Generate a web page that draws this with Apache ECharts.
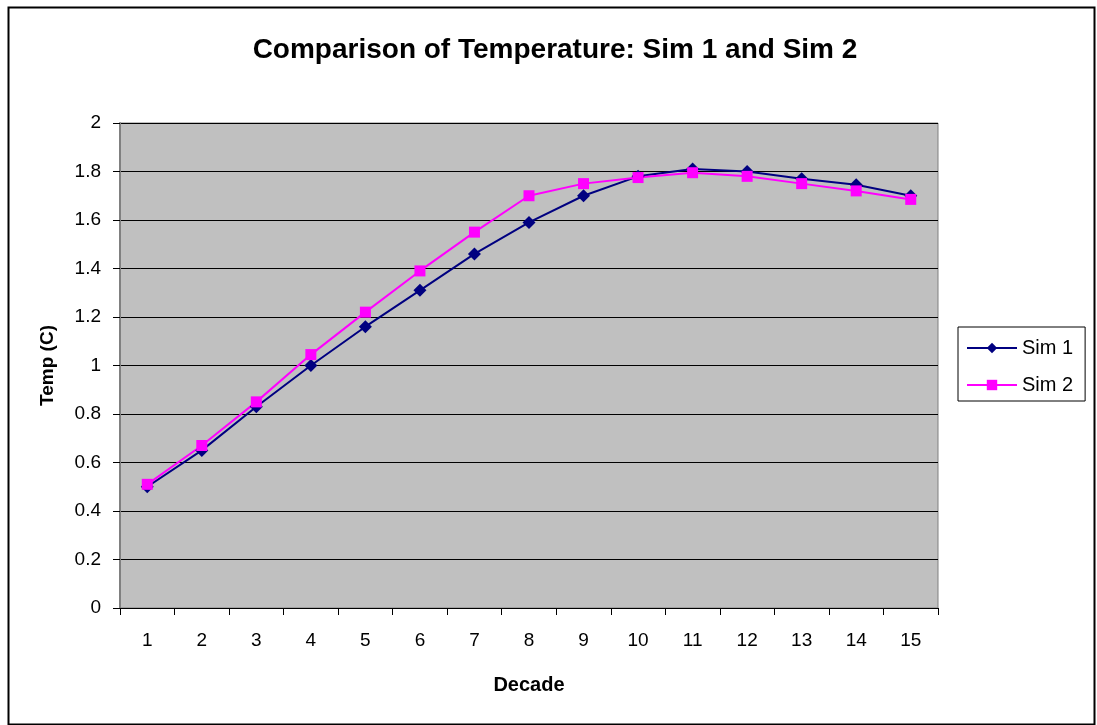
<!DOCTYPE html>
<html><head><meta charset="utf-8">
<script src="https://cdn.jsdelivr.net/npm/echarts@6/dist/echarts.min.js"></script>
<style>html,body{margin:0;padding:0;background:#fff}#c{width:1097px;height:725px}</style>
</head><body><div id="c"></div>
<script>
const categories = ['1','2','3','4','5','6','7','8','9','10','11','12','13','14','15'];
const sim1 = [0.50, 0.65, 0.83, 1.00, 1.16, 1.31, 1.46, 1.59, 1.70, 1.78, 1.81, 1.80, 1.77, 1.745, 1.70];
const sim2 = [0.51, 0.67, 0.85, 1.045, 1.22, 1.39, 1.55, 1.70, 1.75, 1.775, 1.795, 1.78, 1.75, 1.72, 1.685];
const yTicks = [0, 0.2, 0.4, 0.6, 0.8, 1, 1.2, 1.4, 1.6, 1.8, 2];
const FONT = '"Liberation Sans", Arial, sans-serif';
const chart = echarts.init(document.getElementById('c'), null, {renderer:'canvas'});
chart.setOption({
  animation:false,
  backgroundColor:'#fff',
  textStyle:{fontFamily:FONT},
  graphic:[{type:'rect',left:6,top:5,shape:{width:1086,height:717},style:{fill:'none',stroke:'#000',lineWidth:2},z:-1}],
  title:{text:'Comparison of Temperature: Sim 1 and Sim 2',left:550,textAlign:'center',top:31,
    textStyle:{fontFamily:FONT,fontSize:28,fontWeight:'bold',color:'#000'}},
  legend:{orient:'vertical',left:958,top:327,itemWidth:50,itemHeight:13,itemGap:17,padding:[11,12,6,8],
    borderColor:'#000',borderWidth:1,backgroundColor:'#fff',
    textStyle:{fontFamily:FONT,fontSize:20,color:'#000'},data:['Sim 1','Sim 2']},
  grid:{left:120,top:123,right:159,bottom:117,show:true,backgroundColor:'#C0C0C0',borderColor:'#808080',borderWidth:1},
  xAxis:{type:'category',data:categories,boundaryGap:true,name:'Decade',nameLocation:'middle',nameGap:67,
    nameTextStyle:{fontFamily:FONT,fontSize:20,fontWeight:'bold',color:'#000'},
    axisLine:{lineStyle:{color:'#000',width:1}},axisTick:{show:true,length:7,lineStyle:{color:'#000'}},
    axisLabel:{fontFamily:FONT,fontSize:19,color:'#000',margin:23},splitLine:{show:false}},
  yAxis:{type:'value',min:yTicks[0],max:yTicks[yTicks.length-1],interval:0.2,name:'Temp (C)',nameLocation:'middle',nameGap:63,
    nameTextStyle:{fontFamily:FONT,fontSize:19,fontWeight:'bold',color:'#000'},
    axisLine:{show:true,lineStyle:{color:'#808080',width:2}},axisTick:{show:true,length:7,lineStyle:{color:'#000'}},
    axisLabel:{fontFamily:FONT,fontSize:19,color:'#000',margin:19,formatter:v=>String(Math.round(v*10)/10)},
    splitLine:{show:true,lineStyle:{color:'#000',width:1}}},
  series:[
    {name:'Sim 1',type:'line',data:sim1,symbol:'diamond',symbolSize:13,
      lineStyle:{color:'#000080',width:2},itemStyle:{color:'#000080'}},
    {name:'Sim 2',type:'line',data:sim2,symbol:'rect',symbolSize:11,
      lineStyle:{color:'#FF00FF',width:2},itemStyle:{color:'#FF00FF'}}
  ]
});
</script></body></html>
